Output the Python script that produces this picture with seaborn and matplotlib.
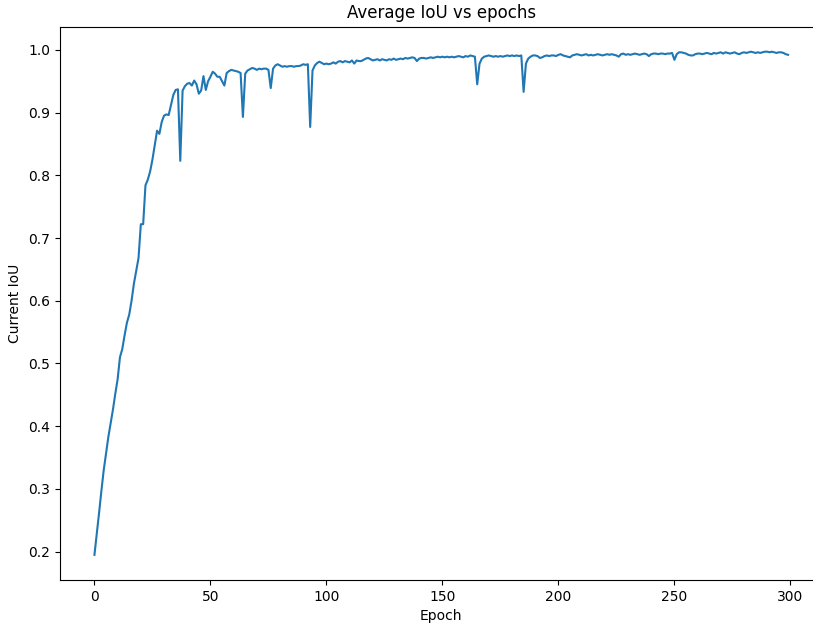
import numpy as np
import pandas as pd
import matplotlib
matplotlib.use("Agg")
import matplotlib.pyplot as plt
import seaborn as sns

# Mean IoU recorded after each training epoch (epochs 0..299)
iou_warmup = [
    0.195, 0.228, 0.262, 0.297, 0.330, 0.357, 0.383, 0.405, 0.427, 0.452,
    0.475, 0.510, 0.523, 0.545, 0.565, 0.578, 0.600, 0.627, 0.648, 0.668,
    0.722, 0.722, 0.784, 0.793, 0.806, 0.825, 0.848, 0.871, 0.866, 0.885,
    0.895, 0.897, 0.896, 0.912, 0.928, 0.936, 0.937, 0.823, 0.935, 0.942,
    0.946, 0.947, 0.943, 0.951, 0.945, 0.930, 0.935, 0.958, 0.936, 0.950,
]
iou_mid = [
    0.957, 0.965, 0.962, 0.957, 0.957, 0.950, 0.943, 0.963, 0.966, 0.968,
    0.967, 0.966, 0.965, 0.963, 0.893, 0.962, 0.967, 0.969, 0.971, 0.970,
    0.968, 0.970, 0.969, 0.970, 0.970, 0.968, 0.939, 0.970, 0.975, 0.977,
    0.975, 0.973, 0.974, 0.973, 0.974, 0.974, 0.973, 0.974, 0.974, 0.975,
    0.977, 0.976, 0.977, 0.877, 0.967, 0.975, 0.979, 0.981, 0.979, 0.977,
    0.978, 0.977, 0.978, 0.980, 0.978, 0.981, 0.982, 0.980, 0.982, 0.981,
    0.980, 0.983, 0.978, 0.983, 0.982, 0.982, 0.984, 0.986, 0.987, 0.985,
    0.983, 0.984, 0.985, 0.983, 0.985, 0.984, 0.983, 0.985, 0.984, 0.986,
    0.984, 0.985, 0.986, 0.985, 0.987, 0.986, 0.987, 0.988, 0.987, 0.982,
    0.986, 0.987, 0.987, 0.986, 0.987, 0.988, 0.987, 0.988, 0.989, 0.988,
]
iou_late = [
    0.989, 0.988, 0.989, 0.988, 0.989, 0.988, 0.989, 0.990, 0.989, 0.988,
    0.990, 0.989, 0.991, 0.990, 0.989, 0.945, 0.978, 0.986, 0.989, 0.990,
    0.991, 0.990, 0.989, 0.990, 0.989, 0.990, 0.989, 0.990, 0.991, 0.990,
    0.991, 0.990, 0.991, 0.990, 0.991, 0.933, 0.978, 0.986, 0.989, 0.991,
    0.991, 0.990, 0.987, 0.988, 0.990, 0.991, 0.990, 0.991, 0.991, 0.990,
    0.992, 0.993, 0.991, 0.990, 0.989, 0.988, 0.991, 0.992, 0.993, 0.992,
    0.991, 0.992, 0.993, 0.991, 0.992, 0.991, 0.992, 0.993, 0.992, 0.991,
    0.992, 0.993, 0.992, 0.993, 0.992, 0.991, 0.989, 0.993, 0.994, 0.992,
    0.993, 0.992, 0.993, 0.994, 0.993, 0.992, 0.993, 0.994, 0.993, 0.990,
    0.993, 0.994, 0.994, 0.993, 0.994, 0.994, 0.993, 0.994, 0.994, 0.995,
    0.984, 0.993, 0.996, 0.996, 0.995, 0.994, 0.992, 0.991, 0.991, 0.993,
    0.994, 0.994, 0.993, 0.994, 0.995, 0.994, 0.993, 0.995, 0.994, 0.995,
    0.996, 0.994, 0.996, 0.995, 0.994, 0.995, 0.996, 0.994, 0.993, 0.995,
    0.996, 0.995, 0.996, 0.997, 0.996, 0.995, 0.996, 0.995, 0.996, 0.997,
    0.997, 0.996, 0.997, 0.996, 0.995, 0.996, 0.996, 0.995, 0.993, 0.992,
]

iou = iou_warmup + iou_mid + iou_late
epochs = list(range(len(iou)))
df = pd.DataFrame({"Epoch": epochs, "Current IoU": iou})

fig = plt.figure(figsize=(8.13, 6.24), dpi=100)
# the plotting area runs off the right edge of the canvas
ax = fig.add_axes([0.0735, 0.0705, 0.9385, 0.887])

sns.lineplot(data=df, x="Epoch", y="Current IoU", ax=ax,
             color="#1f77b4", linewidth=1.5)

ax.set_title("Average IoU vs epochs", fontsize=12)
ax.set_xlabel("Epoch")
ax.set_ylabel("Current IoU")
ax.set_xticks([0, 50, 100, 150, 200, 250, 300])
ax.set_yticks(np.arange(0.2, 1.01, 0.1))
ax.spines["right"].set_visible(False)

fig.savefig("out.png", dpi=100)
